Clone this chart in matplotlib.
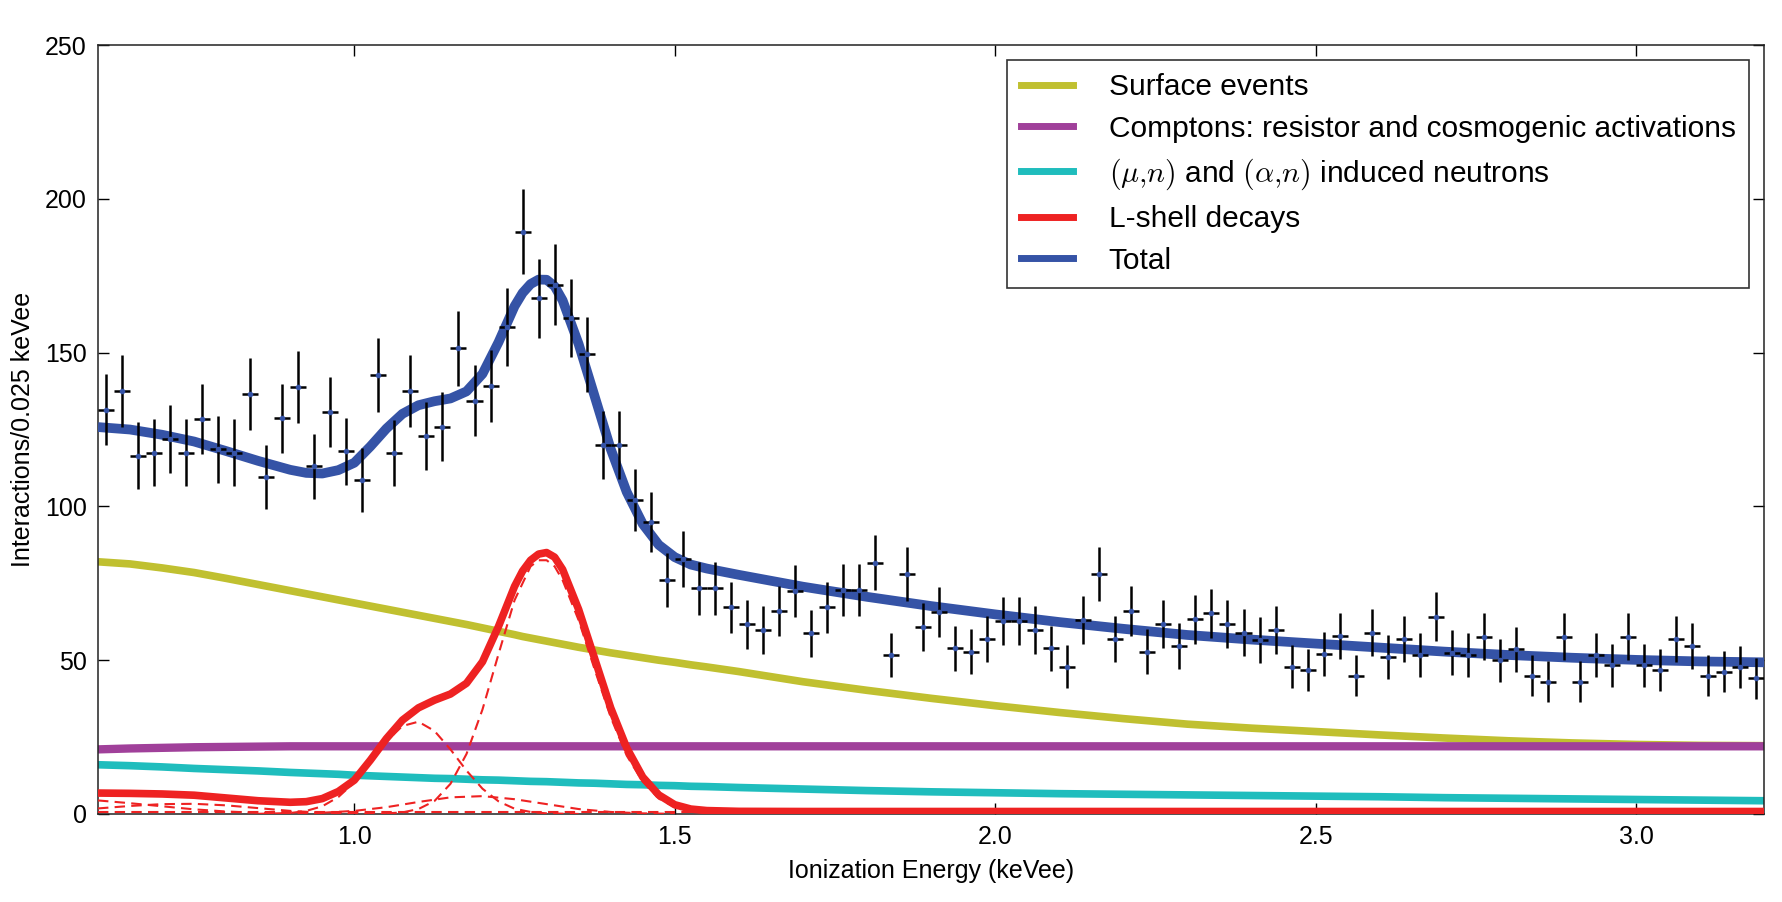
import numpy as np
import matplotlib
matplotlib.use("Agg")
import matplotlib.pyplot as plt
from matplotlib.lines import Line2D

plt.rcParams["font.family"] = ["Liberation Sans", "DejaVu Sans"]
plt.rcParams["mathtext.fontset"] = "cm"

# ---- measured spectrum (0.025 keVee bins, first centre at 0.6125) ----
bin_start = 0.6125
bin_width = 0.025
counts = [
    131.5, 137.4, 116.5, 117.5, 121.9, 117.5, 128.5, 118.6, 117.5, 136.4,
    109.5, 128.6, 138.8, 113.0, 130.7, 118.0, 108.6, 142.8, 117.3, 137.4,
    123.0, 125.9, 151.4, 134.4, 139.1, 158.4, 189.3, 167.7, 172.1, 161.3,
    149.5, 120.0, 120.0, 102.1, 95.0, 76.1, 82.8, 73.4, 73.4, 67.2,
    61.7, 59.8, 66.1, 72.6, 58.7, 67.2, 72.8, 72.8, 81.7, 51.7,
    77.9, 60.9, 65.8, 53.9, 52.8, 56.8, 62.8, 62.8, 59.8, 53.9,
    47.9, 63.1, 77.9, 56.8, 66.1, 52.8, 61.8, 54.6, 63.3, 65.2,
    61.8, 59.0, 56.6, 59.8, 47.9, 46.8, 52.0, 57.9, 44.9, 59.0,
    51.1, 56.8, 51.7, 64.2, 52.5, 51.7, 57.6, 49.9, 53.6, 44.9,
    43.0, 57.6, 43.0, 51.7, 48.4, 57.6, 48.4, 46.8, 56.8, 54.6,
    44.9, 46.3, 47.7, 44.1,
]
count_err = [
    11.5, 11.7, 10.8, 10.8, 11.0, 10.8, 11.3, 10.9, 10.8, 11.7,
    10.5, 11.3, 11.8, 10.6, 11.4, 10.9, 10.4, 12.0, 10.8, 11.7,
    11.1, 11.2, 12.3, 11.6, 11.8, 12.6, 13.8, 12.9, 13.1, 12.7,
    12.2, 11.0, 11.0, 10.1, 9.7, 8.7, 9.1, 8.6, 8.6, 8.2,
    7.9, 7.7, 8.1, 8.5, 7.7, 8.2, 8.5, 8.5, 9.0, 7.2,
    8.8, 7.8, 8.1, 7.3, 7.3, 7.5, 7.9, 7.9, 7.7, 7.3,
    6.9, 7.9, 8.8, 7.5, 8.1, 7.3, 7.9, 7.4, 8.0, 8.1,
    7.9, 7.7, 7.5, 7.7, 6.9, 6.8, 7.2, 7.6, 6.7, 7.7,
    7.1, 7.5, 7.2, 8.0, 7.2, 7.2, 7.6, 7.1, 7.3, 6.7,
    6.6, 7.6, 6.6, 7.2, 7.0, 7.6, 7.0, 6.8, 7.5, 7.4,
    6.7, 6.8, 6.9, 6.6,
]
energy = bin_start + bin_width * np.arange(len(counts))

# ---- fitted model components, read on a common energy grid ----
grid = [0.60, 0.65, 0.70, 0.75, 0.80, 0.85, 0.90, 0.925, 0.95, 0.975,
        1.00, 1.025, 1.05, 1.075, 1.10, 1.125, 1.15, 1.175, 1.20, 1.225,
        1.25, 1.2625, 1.275, 1.2875, 1.30, 1.3125, 1.325, 1.35, 1.375, 1.40,
        1.425, 1.45, 1.475, 1.50, 1.525, 1.55, 1.60, 1.70, 1.80, 1.90,
        2.00, 2.10, 2.20, 2.30, 2.40, 2.50, 2.60, 2.70, 2.80, 2.90,
        3.00, 3.10, 3.20]
surface = [82.0, 81.3, 80.0, 78.5, 76.6, 74.6, 72.6, 71.6, 70.6, 69.6,
           68.6, 67.6, 66.6, 65.6, 64.6, 63.6, 62.6, 61.6, 60.5, 59.4,
           58.3, 57.7, 57.2, 56.7, 56.2, 55.7, 55.2, 54.2, 53.3, 52.4,
           51.6, 50.8, 50.0, 49.3, 48.5, 47.8, 46.3, 43.0, 40.2, 37.6,
           35.2, 33.0, 31.0, 29.2, 27.9, 26.8, 25.7, 24.7, 23.8, 23.1,
           22.6, 22.3, 22.2]
compton = [21.0, 21.3, 21.5, 21.7, 21.8, 21.9, 22.0, 22.0, 22.0, 22.0,
           22.0, 22.0, 22.0, 22.0, 22.0, 22.0, 22.0, 22.0, 22.0, 22.0,
           22.0, 22.0, 22.0, 22.0, 22.0, 22.0, 22.0, 22.0, 22.0, 22.0,
           22.0, 22.0, 22.0, 22.0, 22.0, 22.0, 22.0, 22.0, 22.0, 22.0,
           22.0, 22.0, 22.0, 22.0, 22.0, 22.0, 22.0, 22.0, 22.0, 22.0,
           22.0, 22.0, 22.0]
neutrons = [16.0, 15.7, 15.3, 14.8, 14.4, 14.0, 13.5, 13.3, 13.1, 12.9,
            12.6, 12.4, 12.2, 12.0, 11.8, 11.6, 11.5, 11.3, 11.1, 11.0,
            10.8, 10.7, 10.6, 10.55, 10.5, 10.4, 10.3, 10.1, 10.0, 9.8,
            9.6, 9.5, 9.3, 9.2, 9.0, 8.9, 8.6, 8.1, 7.6, 7.2,
            6.9, 6.6, 6.4, 6.2, 6.0, 5.8, 5.6, 5.3, 5.1, 4.9,
            4.7, 4.5, 4.3]
lshell = [6.8, 6.7, 6.5, 6.1, 5.2, 4.3, 3.8, 4.0, 5.0, 7.3,
          11.0, 17.5, 24.5, 30.5, 34.5, 37.0, 39.0, 42.5, 49.5, 61.0,
          74.0, 79.0, 82.5, 84.5, 85.0, 83.5, 79.5, 66.5, 50.5, 34.5,
          21.5, 12.0, 6.2, 3.0, 1.6, 1.1, 0.85, 0.8, 0.8, 0.8,
          0.8, 0.8, 0.8, 0.8, 0.8, 0.8, 0.8, 0.8, 0.8, 0.8,
          0.8, 0.8, 0.8]

# individual L-shell lines (dashed)
peak_low1_x = [0.60, 0.65, 0.70, 0.75, 0.80, 0.85, 0.90, 0.95]
peak_low1_y = [4.4, 3.5, 2.5, 1.5, 0.8, 0.35, 0.1, 0.0]
peak_low2_x = [0.60, 0.65, 0.70, 0.75, 0.80, 0.85, 0.90, 0.95, 1.00, 1.05]
peak_low2_y = [1.8, 2.6, 3.2, 3.3, 2.8, 1.9, 1.0, 0.4, 0.1, 0.0]
flat_x = [0.60, 1.55]
flat_y = [0.8, 0.8]
peak_110_x = [0.85, 0.90, 0.925, 0.95, 0.975, 1.00, 1.025, 1.05, 1.075, 1.10,
              1.125, 1.15, 1.175, 1.20, 1.225, 1.25, 1.275, 1.30, 1.35]
peak_110_y = [0.05, 0.3, 1.0, 2.5, 5.5, 10.3, 16.8, 23.6, 28.6, 30.0,
              27.0, 21.0, 14.1, 8.2, 4.1, 1.7, 0.65, 0.2, 0.0]
peak_119_x = [0.95, 1.00, 1.05, 1.10, 1.15, 1.20, 1.25, 1.30, 1.35, 1.40, 1.45, 1.50]
peak_119_y = [0.4, 1.0, 2.2, 3.9, 5.4, 5.8, 4.8, 3.2, 1.6, 0.65, 0.2, 0.05]
peak_130_x = [1.05, 1.075, 1.10, 1.125, 1.15, 1.175, 1.20, 1.225, 1.25, 1.275,
              1.2875, 1.30, 1.3125, 1.325, 1.35, 1.375, 1.40, 1.425, 1.45, 1.475,
              1.50, 1.525, 1.55, 1.60]
peak_130_y = [0.2, 0.5, 1.6, 4.2, 9.8, 19.5, 34.0, 52.0, 69.5, 80.5,
              82.5, 82.5, 80.5, 76.0, 63.0, 47.0, 31.5, 19.0, 10.5, 5.0,
              2.2, 0.9, 0.3, 0.05]

c_surf = "#c0c030"
c_comp = "#a0409a"
c_neut = "#1fbdbd"
c_lsh = "#ee2222"
c_tot = "#3553a6"

total = np.array(surface) + np.array(compton) + np.array(neutrons) + np.array(lshell)

fig, ax = plt.subplots(figsize=(17.82, 9.02), dpi=100)
fig.subplots_adjust(left=0.055, right=0.99, bottom=0.0976, top=0.95)

ax.plot(grid, surface, color=c_surf, lw=5.5, solid_capstyle="butt", zorder=2)
ax.plot(grid, compton, color=c_comp, lw=6, solid_capstyle="butt", zorder=2)
ax.plot(grid, neutrons, color=c_neut, lw=5.5, solid_capstyle="butt", zorder=2)

dash = (0, (5, 3))
for px, py in [(peak_low1_x, peak_low1_y), (peak_low2_x, peak_low2_y),
               (flat_x, flat_y), (peak_110_x, peak_110_y),
               (peak_119_x, peak_119_y), (peak_130_x, peak_130_y)]:
    ax.plot(px, py, color=c_lsh, lw=1.5, ls=dash, zorder=3)

ax.plot(grid, lshell, color=c_lsh, lw=5.5, solid_capstyle="butt",
        solid_joinstyle="round", zorder=3)
ax.plot(grid, total, color=c_tot, lw=7, solid_capstyle="butt",
        solid_joinstyle="round", zorder=4)

ax.errorbar(energy, counts, xerr=bin_width / 2, yerr=count_err, fmt="o",
            ms=3, mfc=c_tot, mec=c_tot, ecolor="black", elinewidth=1.8,
            capsize=0, zorder=5)

handles = [
    Line2D([], [], color=c_surf, lw=5),
    Line2D([], [], color=c_comp, lw=5),
    Line2D([], [], color=c_neut, lw=5),
    Line2D([], [], color=c_lsh, lw=5),
    Line2D([], [], color=c_tot, lw=5),
]
labels = [
    "Surface events",
    "Comptons: resistor and cosmogenic activations",
    r"$(\mu{,}n)$ and $(\alpha{,}n)$ induced neutrons",
    "L-shell decays",
    "Total",
]
leg = ax.legend(handles, labels, loc="upper right", fontsize=21.5,
                fancybox=False, framealpha=1, edgecolor="#333333",
                handlelength=1.75, handletextpad=1.2, labelspacing=0.45,
                borderpad=0.45)
leg.get_frame().set_linewidth(1.2)

ax.set_xlim(0.6, 3.2)
ax.set_ylim(0, 250)
ax.set_xticks([1.0, 1.5, 2.0, 2.5, 3.0])
ax.set_yticks([0, 50, 100, 150, 200, 250])
ax.tick_params(direction="in", top=True, right=True, length=8, width=1,
               labelsize=18, pad=8)
for s in ax.spines.values():
    s.set_linewidth(1.1)
    s.set_color("#222222")

ax.set_xlabel("Ionization Energy (keVee)", fontsize=18, labelpad=7)
ax.set_ylabel("Interactions/0.025 keVee", fontsize=18, labelpad=7)

fig.savefig("out.png", dpi=100)
